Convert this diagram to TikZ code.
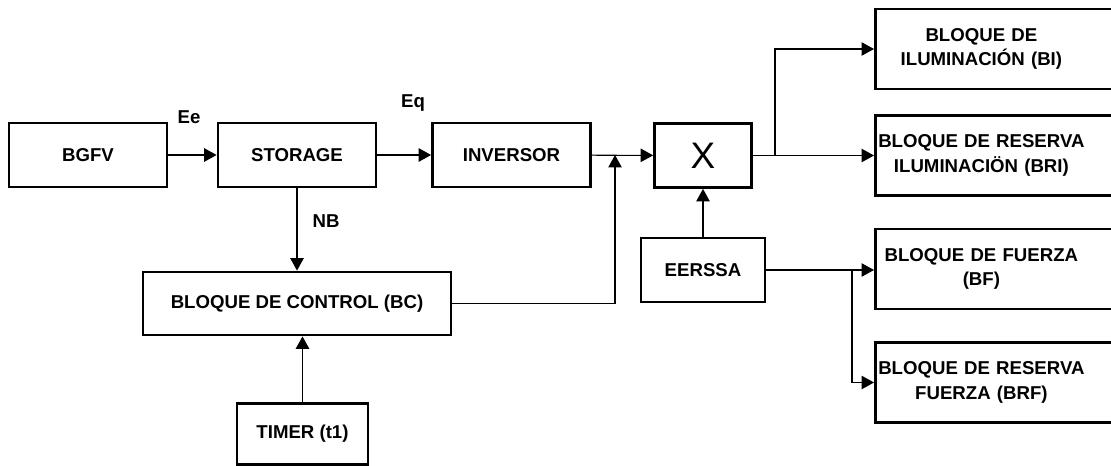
\documentclass[tikz,border=0pt]{standalone}
\usepackage{fontspec}
\setmainfont{Liberation Sans}
\usetikzlibrary{arrows.meta}
\newcommand{\rline}[1]{\makebox[4.24cm]{#1}}

\begin{document}
\begin{tikzpicture}[
    x=0.02cm, y=-0.02cm,
    >={Triangle[length=0.25cm, width=0.27cm]},
    block/.style={draw, rectangle, line width=1.6pt, inner sep=0pt, minimum height=1.28cm, minimum width=3.16cm, align=center, font=\fontsize{10.6}{14}\selectfont\bfseries},
    rblock/.style={block, anchor=west, minimum height=1.6cm, text width=5cm, align=left},
    lbl/.style={font=\fontsize{10.6}{14}\selectfont\bfseries},
    wire/.style={line width=0.6pt}
]
    \clip (0,0) rectangle (1111,466);

    \node[block] (bgfv) at (88,155) {BGFV};
    \node[block] (sto) at (297,155) {STORAGE};
    \node[block] (inv) at (511.5,155) {INVERSOR};
    \node[block, minimum width=1.94cm, font=\fontsize{21}{24}\selectfont] (mix) at (703,155.5) {X};
    \node[block, minimum width=6.16cm, minimum height=1.26cm] (ctrl) at (297,303.5) {BLOQUE DE CONTROL (BC)};
    \node[block, minimum width=2.62cm, minimum height=1.22cm] (tim) at (302.5,434) {TIMER (t1)};
    \node[block, minimum width=2.48cm] (eer) at (703,270) {EERSSA};

    \node[rblock] (bi) at (874,49) {\rline{BLOQUE DE}\\\rline{ILUMINACIÓN (BI)}};
    \node[rblock] (bri) at (874,155.5) {\rline{BLOQUE DE RESERVA}\\\rline{ILUMINACIÖN (BRI)}};
    \node[rblock] (bf) at (874,269) {\rline{BLOQUE DE FUERZA}\\\rline{(BF)}};
    \node[rblock] (brf) at (874,382.5) {\rline{BLOQUE DE RESERVA}\\\rline{FUERZA (BRF)}};

    \node[lbl] (ee) at (189,117) {Ee};
    \node[lbl] (eq) at (413,103) {Eq};
    \node[lbl] (nb) at (326,221) {NB};

    \coordinate (jn) at (615,155);
    \coordinate (xsplit) at (775,155.5);
    \coordinate (esplit) at (852,269);

    \draw[->, wire] (bgfv) -- (sto);
    \draw[->, wire] (sto) -- (inv);
    \draw[->, wire] (inv) -- (mix);
    \draw[->, wire] (sto) -- (ctrl);
    \draw[->, wire] (tim.north) -- (tim.north |- ctrl.south);
    \draw[->, wire] (ctrl.east) -| (jn);
    \draw[->, wire] (eer) -- (mix);
    \draw[->, wire] (mix) -- (bri);
    \draw[->, wire] (xsplit) |- (bi.west);
    \draw[->, wire] (eer.east) -- (eer.east -| bf.west);
    \draw[->, wire] (esplit) |- (brf.west);
\end{tikzpicture}
\end{document}
